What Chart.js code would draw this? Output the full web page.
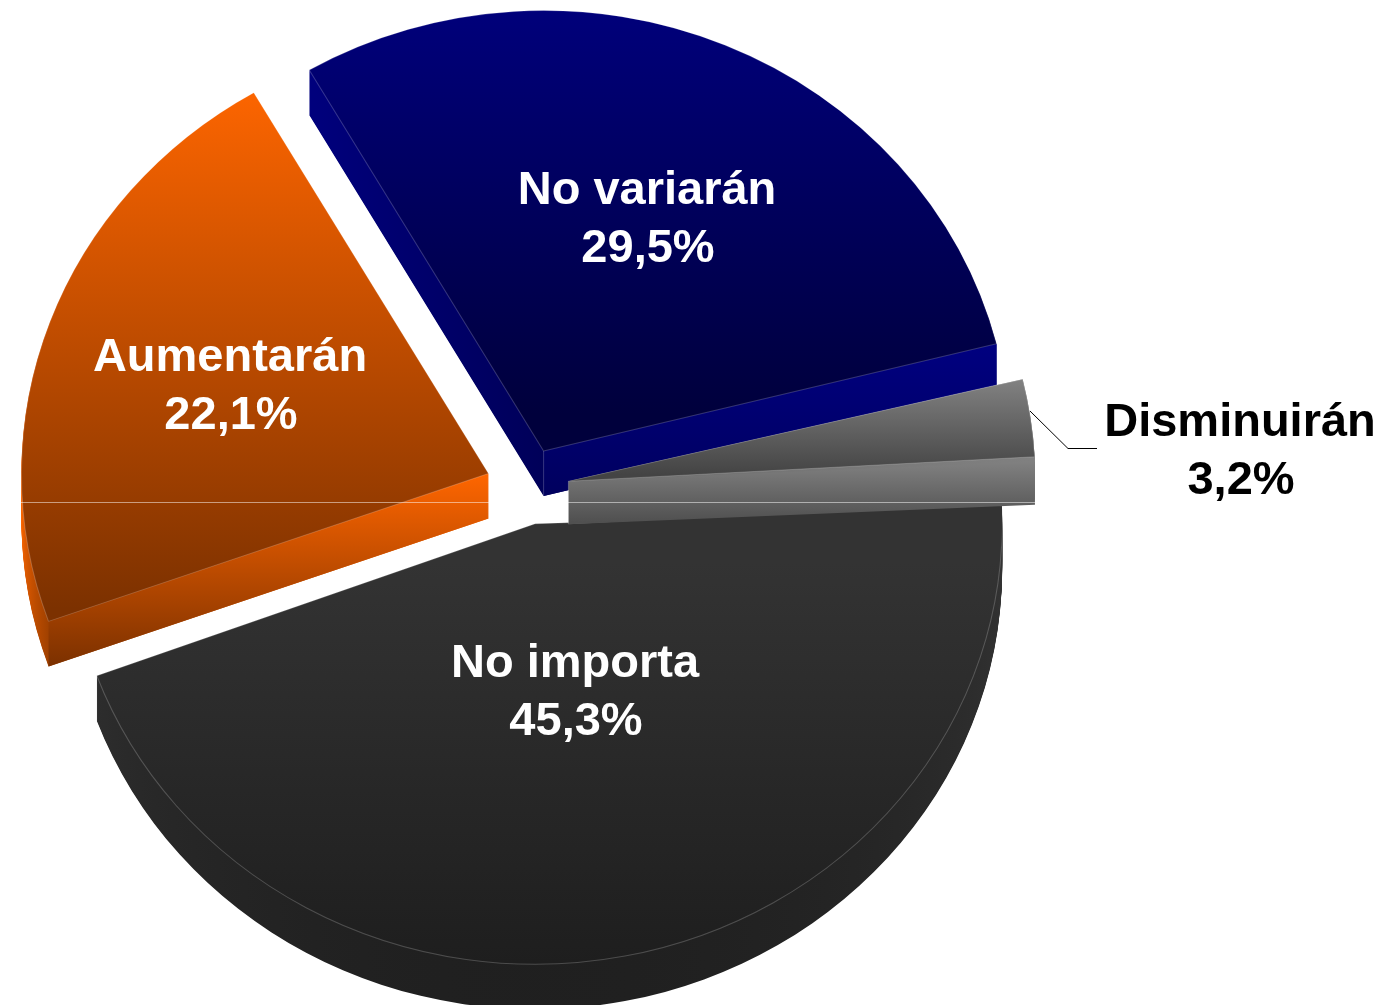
<!DOCTYPE html>
<html><head><meta charset="utf-8">
<style>html,body{margin:0;padding:0;background:#fff}canvas{display:block}</style>
<script src="https://cdn.jsdelivr.net/npm/chart.js@4"></script>
</head><body><canvas id="c" width="1392" height="1005"></canvas>
<script>
const categories = ['No variarán', 'Disminuirán', 'No importa', 'Aumentarán'];
const values = [29.5, 3.2, 45.3, 22.1];
const valueLabels = ['29,5%', '3,2%', '45,3%', '22,1%'];
const explode = [156, 156, 150, 157];

const canvas = document.getElementById('c');
const ctx0 = canvas.getContext('2d');
function grad(y0, c0, y1, c1) {
  const g = ctx0.createLinearGradient(0, y0, 0, y1);
  g.addColorStop(0, c0); g.addColorStop(1, c1);
  return g;
}
const R = 440.5, SX = 467 / 440.5, DEPTH = 45, GREY_DEPTH = 43;
const topFills = [
  grad(10, '#000080', 450, '#00003c'),
  grad(375, '#888888', 480, '#444444'),
  grad(525, '#333333', 965, '#1c1c1c'),
  grad(93, '#ff6600', 622, '#7c3100')
];
const wallFills = [
  grad(70, '#000080', 495, '#000058'),
  grad(457, '#848484', 522, '#505050'),
  grad(503, '#333333', 1005, '#1c1c1c'),
  grad(495, '#ff6600', 668, '#8a3800')
];
// straight side walls: [slice, which radial edge, fill]
const sideWalls = [
  [0, 'endAngle', grad(345, '#000080', 495, '#00005e')],
  [1, 'endAngle', grad(457, '#848484', 522, '#505050')],
  [3, 'startAngle', grad(473, '#ff6600', 668, '#7a3000')]
];
const edgeLine = 'rgba(255,255,255,0.2)';

function withEllipse(ctx, arc, fn) {
  ctx.save();
  ctx.translate(arc.x, arc.y);
  ctx.scale(SX, 1);
  ctx.translate(-arc.x, -arc.y);
  fn();
  ctx.restore();
}
function apex(arc) {
  const mid = (arc.startAngle + arc.endAngle) / 2, d = arc.options.offset / 4;
  return [arc.x + Math.cos(mid) * d, arc.y + Math.sin(mid) * d];
}
function drawExtrusion(ctx, arc, i) {
  const ghost = Object.create(arc);
  ghost.options = Object.assign({}, arc.options, {backgroundColor: wallFills[i], borderWidth: 0});
  const depth = i === 1 ? GREY_DEPTH : DEPTH;
  for (let d = depth; d >= 1; d--) {
    ctx.save();
    ctx.translate(0, d);
    ghost.draw(ctx);
    ctx.restore();
  }
}
function drawSideWall(ctx, arc, edge, fill, depth) {
  const [ax, ay] = apex(arc);
  const a = arc[edge];
  const bx = ax + Math.cos(a) * R, by = ay + Math.sin(a) * R;
  ctx.beginPath();
  ctx.moveTo(ax, ay); ctx.lineTo(bx, by);
  ctx.lineTo(bx, by + depth); ctx.lineTo(ax, ay + depth);
  ctx.closePath();
  ctx.fillStyle = fill; ctx.fill();
  ctx.beginPath();
  ctx.moveTo(ax, ay); ctx.lineTo(ax, ay + depth);
  ctx.strokeStyle = edgeLine; ctx.lineWidth = 1; ctx.stroke();
}
// lifts the dark slice's upper rim so it tucks under the grey wall
function tuckDark(ctx, arc) {
  const ghost = Object.create(arc);
  ghost.options = Object.assign({}, arc.options, {borderWidth: 0});
  ctx.save();
  ctx.beginPath();
  ctx.rect(apex(arc)[0] + 36, arc.y, 600, 60);
  ctx.clip();
  ctx.translate(0, -6);
  ghost.draw(ctx);
  ctx.restore();
}

const pie3d = {
  id: 'pie3d',
  afterDatasetsUpdate(chart) {
    chart.getDatasetMeta(0).data.forEach(a => {
      const fix = 1 - Math.sin(Math.min(Math.PI, a.circumference));
      a.outerRadius = R - a.options.offset / 4 * fix;
    });
  },
  beforeDatasetsDraw(chart) {
    const arcs = chart.getDatasetMeta(0).data, ctx = chart.ctx;
    withEllipse(ctx, arcs[0], () => {
      [0, 3, 2].forEach(i => drawExtrusion(ctx, arcs[i], i));
      sideWalls.filter(w => w[0] !== 1).forEach(w => drawSideWall(ctx, arcs[w[0]], w[1], w[2], DEPTH));
    });
    ctx.save();
    ctx.translate(arcs[0].x, arcs[0].y); ctx.scale(SX, 1); ctx.translate(-arcs[0].x, -arcs[0].y);
  },
  afterDatasetsDraw(chart) {
    const arcs = chart.getDatasetMeta(0).data, ctx = chart.ctx;
    ctx.restore();
    withEllipse(ctx, arcs[0], () => {
      tuckDark(ctx, arcs[2]);
      drawExtrusion(ctx, arcs[1], 1);
      const w = sideWalls.find(s => s[0] === 1);
      drawSideWall(ctx, arcs[1], w[1], w[2], GREY_DEPTH);
      arcs[1].draw(ctx);
    });
  },
  afterDraw(chart) {
    const ctx = chart.ctx;
    // faint seam across the middle of the picture
    ctx.save();
    ctx.strokeStyle = 'rgba(255,255,255,0.5)'; ctx.lineWidth = 1;
    ctx.beginPath(); ctx.moveTo(20, 502.5); ctx.lineTo(1035, 502.5); ctx.stroke();
    // leader line
    ctx.strokeStyle = '#000';
    ctx.beginPath(); ctx.moveTo(1030, 411); ctx.lineTo(1068, 448.5); ctx.lineTo(1097, 448.5); ctx.stroke();
    // labels
    const spots = [[647, 191, '#fff'], [1240, 423, '#000'], [575, 664, '#fff'], [230, 358, '#fff']];
    ctx.font = 'bold 47px "Liberation Sans", Arial, sans-serif';
    ctx.textAlign = 'center'; ctx.textBaseline = 'middle';
    spots.forEach((s, i) => {
      ctx.fillStyle = s[2];
      ctx.fillText(categories[i], s[0], s[1]);
      ctx.fillText(valueLabels[i], s[0] + 1, s[1] + 58);
    });
    ctx.restore();
  }
};

new Chart(ctx0, {
  type: 'pie',
  data: {
    labels: categories,
    datasets: [{
      data: values,
      backgroundColor: topFills,
      borderColor: edgeLine,
      borderWidth: 1,
      offset: explode,
      clip: false
    }]
  },
  options: {
    responsive: false,
    animation: false,
    events: [],
    rotation: -30.15,
    radius: R,
    layout: {padding: {left: 0, top: 0, right: 337, bottom: 31}},
    plugins: {legend: {display: false}, tooltip: {enabled: false}, title: {display: false}}
  },
  plugins: [pie3d]
});
</script></body></html>
